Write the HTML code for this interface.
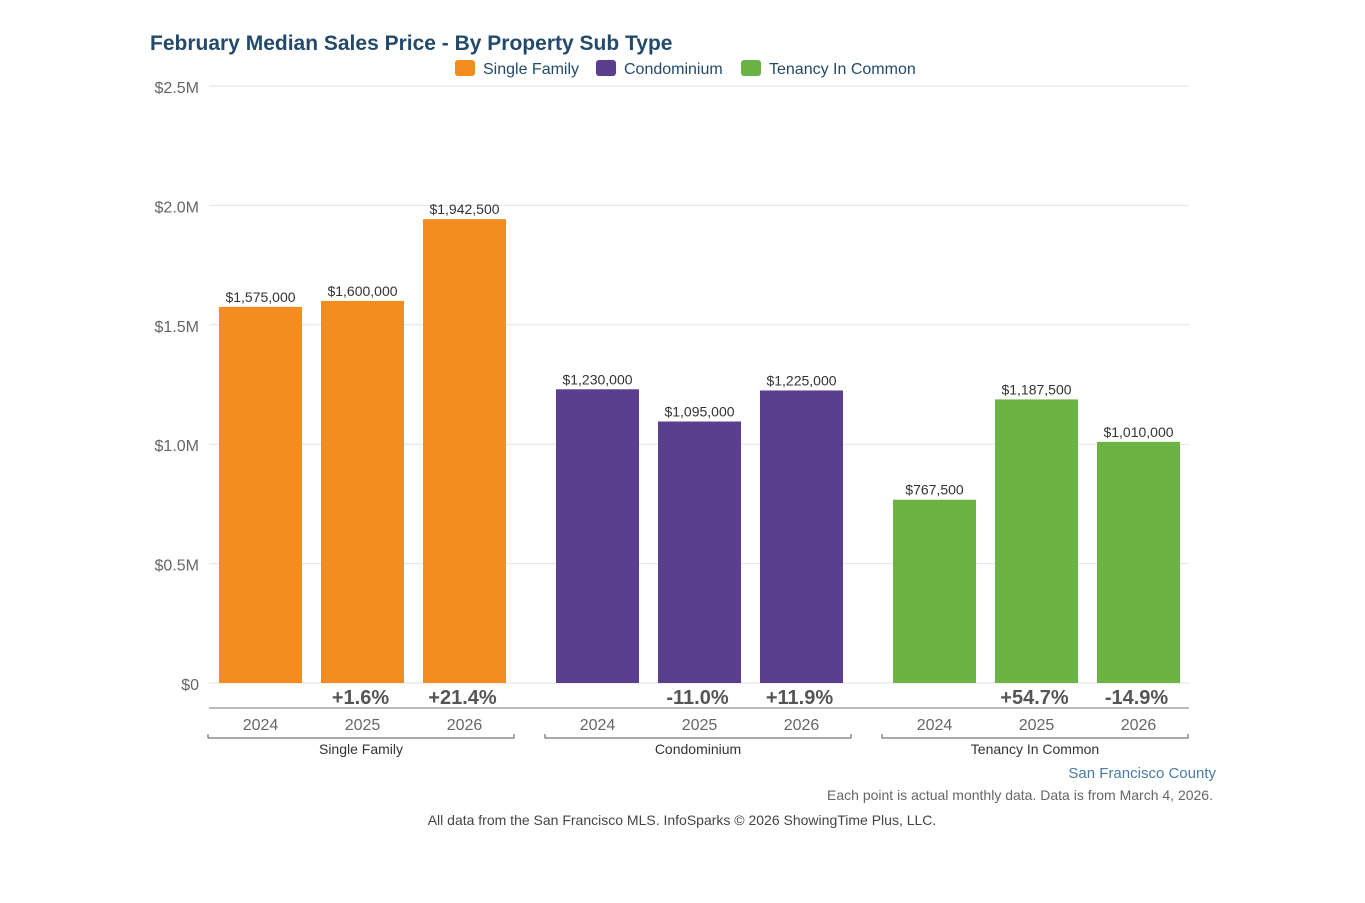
<!DOCTYPE html>
<html><head><meta charset="utf-8"><style>
body{margin:0;background:#fff;}
svg{display:block;font-family:"Liberation Sans",Arial,sans-serif;}
</style></head><body>
<svg id="chart" width="1365" height="903">
<text x="150" y="50" font-size="21" font-weight="bold" fill="#234a6b">February Median Sales Price - By Property Sub Type</text>
<g>
<rect x="455" y="60" width="20" height="16" rx="3" fill="#f28e1f"/>
<text x="483" y="74" font-size="16" fill="#234a6b">Single Family</text>
<rect x="596" y="60" width="20" height="16" rx="3" fill="#5a3f8f"/>
<text x="624" y="74" font-size="16" fill="#234a6b">Condominium</text>
<rect x="741" y="60" width="20" height="16" rx="3" fill="#6bb344"/>
<text x="769" y="74" font-size="16" fill="#234a6b">Tenancy In Common</text>
</g>
<g id="grid"></g><g id="bars"></g>
<line x1="209" x2="1189" y1="708" y2="708" stroke="#777"/>
<text x="1216" y="778" font-size="15" fill="#4a7ba6" text-anchor="end">San Francisco County</text>
<text x="1213" y="800" font-size="14" fill="#666" text-anchor="end">Each point is actual monthly data. Data is from March 4, 2026.</text>
<text x="682" y="825" font-size="14" fill="#444" text-anchor="middle">All data from the San Francisco MLS. InfoSparks © 2026 ShowingTime Plus, LLC.</text>
</svg>
<script>
const groups=["Single Family","Condominium","Tenancy In Common"];
const years=["2024","2025","2026"];
const sfValues=[1575000,1600000,1942500];
const condoValues=[1230000,1095000,1225000];
const ticValues=[767500,1187500,1010000];
const sfChange=["","+1.6%","+21.4%"];
const condoChange=["","-11.0%","+11.9%"];
const ticChange=["","+54.7%","-14.9%"];
const yTicks=[0,500000,1000000,1500000,2000000,2500000];
const yTickLabels=["$0","$0.5M","$1.0M","$1.5M","$2.0M","$2.5M"];
const colors=["#f28e1f","#5a3f8f","#6bb344"];
const NS="http://www.w3.org/2000/svg";
const y=v=>683-v/2500000*597;
const gx=g=>209+g*337;
function mk(tag,attrs,parent,txt){const e=document.createElementNS(NS,tag);for(const k in attrs)e.setAttribute(k,attrs[k]);if(txt!==undefined)e.textContent=txt;parent.appendChild(e);return e;}
const grid=document.getElementById('grid'),bars=document.getElementById('bars');
yTicks.forEach((t,i)=>{
 const l=mk('line',{x1:209,x2:1189,y1:y(t),y2:y(t),stroke:'#e2e2e2'},grid);
 
 
 const tx=mk('text',{x:199,y:y(t)+7,'font-size':16,fill:'#666','text-anchor':'end'},grid,yTickLabels[i]);
 
 
});
const series=[sfValues,condoValues,ticValues],changes=[sfChange,condoChange,ticChange];
series.forEach((vals,g)=>{
 vals.forEach((v,i)=>{
  const x=gx(g)+10+i*102,w=83;
  const r=mk('rect',{x:x,y:y(v),width:w,height:683-y(v),fill:colors[g]},bars);
  
  
  const lb=mk('text',{x:x+w/2,y:y(v)-5,'font-size':14,fill:'#333','text-anchor':'middle'},bars,'$'+v.toLocaleString('en-US'));
  
  
  if(changes[g][i]){const c=mk('text',{x:x+w/2-2,y:704,'font-size':20,'font-weight':'bold',fill:'#555','text-anchor':'middle'},bars,changes[g][i]);
  
  }
  const yl=mk('text',{x:x+w/2,y:730,'font-size':16,fill:'#666','text-anchor':'middle'},bars,years[i]);
  
  
 });
 const x0=gx(g)-1,x1=gx(g)+305;
 const br=mk('path',{d:`M${x0} 734V738H${x1}V734`,fill:'none',stroke:'#555'},bars);
 
 
 const gl=mk('text',{x:(x0+x1)/2,y:754,'font-size':14,fill:'#333','text-anchor':'middle'},bars,groups[g]);
 
 
});
</script>
</body></html>
